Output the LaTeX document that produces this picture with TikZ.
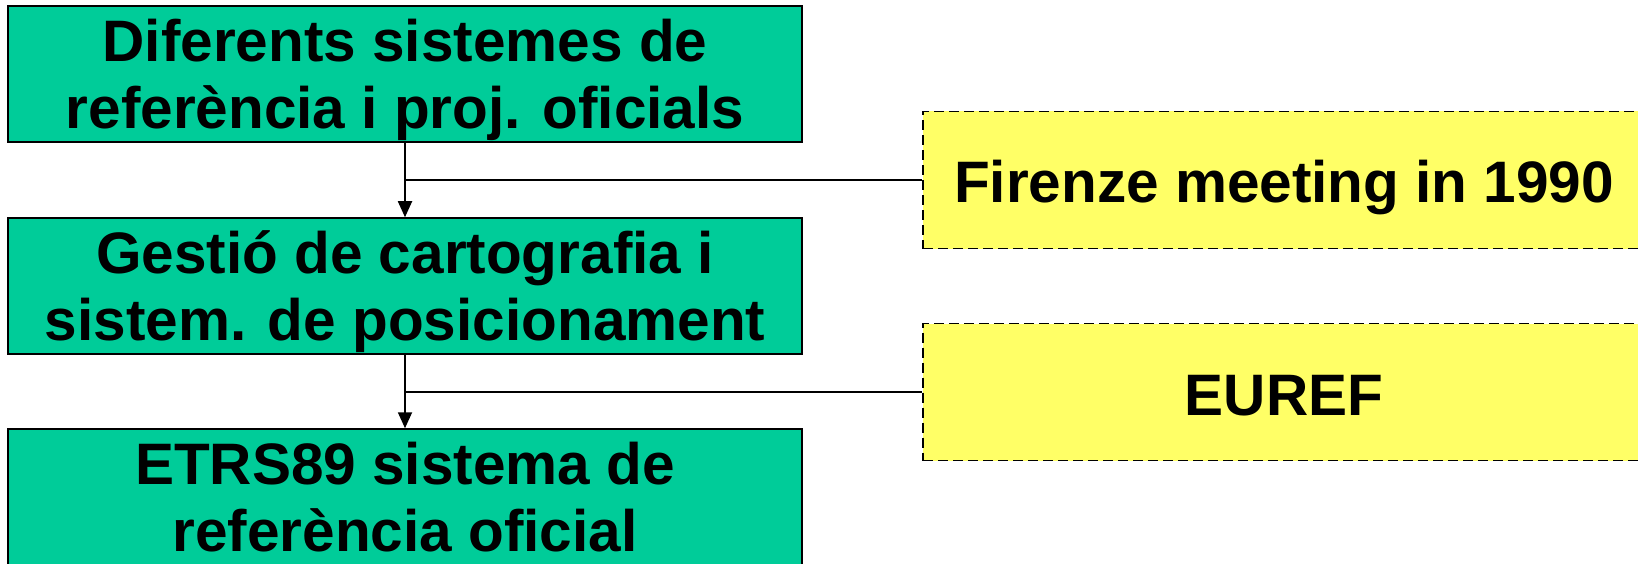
\documentclass[tikz,border=0pt]{standalone}
\usepackage{fontspec}
\setmainfont{Liberation Sans}
\usetikzlibrary{arrows.meta}
\definecolor{boxgreen}{RGB}{0,204,153}
\definecolor{boxyellow}{RGB}{255,255,102}
\newcommand{\topstrut}{\rule{0pt}{55pt}}
\newcommand{\botstrut}{\rule[-13pt]{0pt}{13pt}}
\tikzset{
  greenbox/.style={draw=black, line width=1.5pt, fill=boxgreen, minimum width=794pt,
    minimum height=136pt, align=center, inner sep=0pt,
    font=\fontsize{58.5}{67}\selectfont\bfseries},
  yellowbox/.style={draw=black, line width=1.5pt, dash pattern=on 10pt off 5pt,
    fill=boxyellow, minimum width=722pt, minimum height=137pt, inner sep=0pt,
    text height=46pt, text depth=0pt,
    font=\fontsize{58.5}{67}\selectfont\bfseries}
}
\begin{document}
\begin{tikzpicture}[x=1pt, y=-1pt]
    \useasboundingbox (0,0) rectangle (1638,564);
    \fill[white] (0,0) rectangle (1638,564);
    \node[greenbox] (sist) at (405,74) {\topstrut Diferents sistemes de\\referència i proj. oficials\botstrut};
    \node[greenbox] (gest) at (405,286) {\topstrut Gestió de cartografia i\\sistem. de posicionament\botstrut};
    \node[greenbox] (etrs) at (405,497) {\topstrut ETRS89 sistema de\\referència oficial\botstrut};
    \node[yellowbox] (firenze) at (1284,180) {Firenze meeting in 1990};
    \node[yellowbox] (euref) at (1284,392) {EUREF};

    \draw[-{Triangle[length=16pt,width=14pt]}, line width=1.8pt]
    (sist) -- (gest);
    \draw[-{Triangle[length=16pt,width=14pt]}, line width=1.8pt]
    (gest) -- (etrs);

    \draw[line width=1.5pt]
    (firenze.west) -- (firenze.west -| sist.south)
    (euref.west) -- (euref.west -| gest.south);
  \end{tikzpicture}
\end{document}
